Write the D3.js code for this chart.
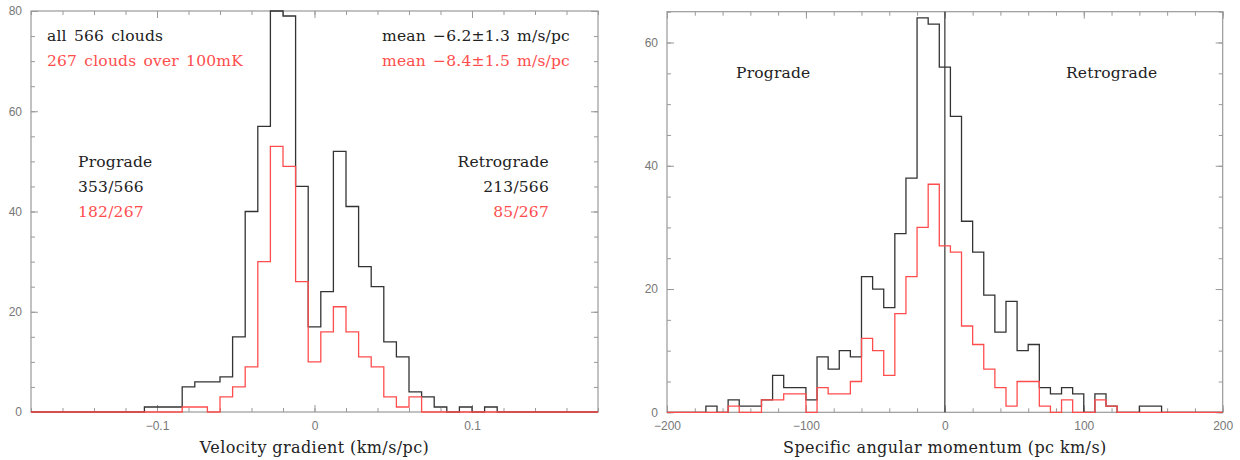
<!DOCTYPE html>
<html>
<head>
<meta charset="utf-8">
<script src="https://cdn.jsdelivr.net/npm/d3@7.9.0/dist/d3.min.js"></script>
<style>
  body { margin: 0; background: #fff; }
  .tick text { font-family: "Liberation Sans", Arial, sans-serif; font-size: 12px; fill: #777; }
  .tick line { stroke: #999; stroke-width: 1; }
  .note { font-family: "DejaVu Serif", serif; font-size: 15.5px; letter-spacing: 0.2px; word-spacing: 2px; }
  .xlabel { font-family: "DejaVu Serif", serif; font-size: 16px; fill: #222; letter-spacing: 0.4px; }
</style>
</head>
<body>
<svg id="chart" width="1240" height="460"></svg>
<script>
// ---- data: velocity gradient histogram (km/s/pc), bins of 0.008 starting at -0.18
const gradBinStart = -0.18;
const gradBinWidth = 0.008;
const gradAll = [0,0,0,0,0,0,0,0,0, 1,1,1,5,6,6,7,15,40,57,80,79,45,17,24,52,41,29,25,14,11,4,3,1,0,1,0,1, 0,0,0,0,0,0,0,0];
const gradBright = [0,0,0,0,0,0,0,0,0,0,0,0, 1,1,0,3,5,9,30,53,49,26,10,16,21,16,11,9,3,1,3, 0,0,0,0,0,0,0,0,0,0,0,0,0,0];
const gradXTicks = [-0.1, 0, 0.1];
const gradYTicks = [0, 20, 40, 60, 80];

// ---- data: specific angular momentum histogram (pc km/s), bins of 8 centred on -200..200
const momBinStart = -204;
const momBinWidth = 8;
const momAll = [0,0,0,0,1,0,2,1,1,2,6,4,4,2,9,7,10,9,22,20,17,29,38,64,63,56,48,31,26,19,13,18,10,11,4,3,4,3,0,3,1,0,0,1,1,0,0,0,0,0,0];
const momBright = [0,0,0,0,0,0,1,0,0,2,2,3,3,0,4,3,3,5,12,10,6,16,22,30,37,27,26,14,11,7,4,1,5,5,1,0,2,0,0,2,1,0,0,0,0,0,0,0,0,0,0];
const momXTicks = [-200, -100, 0, 100, 200];
const momYTicks = [0, 20, 40, 60];

const blackCol = "#333";
const redCol = "#ff4d4d";

const svg = d3.select("#chart");

function stepPoints(start, width, counts) {
  const pts = counts.map((c, i) => [start + i * width, c]);
  pts.push([start + counts.length * width, counts[counts.length - 1]]);
  return pts;
}

function drawPanel(o) {
  const x = d3.scaleLinear().domain(o.xDomain).range([o.left, o.right]);
  const y = d3.scaleLinear().domain(o.yDomain).range([o.bottom, o.top]);
  const g = svg.append("g");
  const fmt = d3.format("~g");

  g.append("clipPath").attr("id", o.id + "-clip")
    .append("rect")
    .attr("x", o.left).attr("y", o.top - 1)
    .attr("width", o.right - o.left).attr("height", o.bottom - o.top + 2);

  // minor ticks on all sides
  g.append("g").attr("transform", `translate(0,${o.bottom})`)
    .call(d3.axisBottom(x).tickValues(o.xMinor).tickSize(-4).tickFormat(""));
  g.append("g").attr("transform", `translate(0,${o.top})`)
    .call(d3.axisTop(x).tickValues(o.xMinor).tickSize(-4).tickFormat(""));
  g.append("g").attr("transform", `translate(${o.left},0)`)
    .call(d3.axisLeft(y).tickValues(o.yMinor).tickSize(-4).tickFormat(""));
  g.append("g").attr("transform", `translate(${o.right},0)`)
    .call(d3.axisRight(y).tickValues(o.yMinor).tickSize(-4).tickFormat(""));

  // major ticks
  g.append("g").attr("transform", `translate(0,${o.bottom})`)
    .call(d3.axisBottom(x).tickValues(o.xTicks).tickSize(-7).tickPadding(9).tickFormat(fmt));
  g.append("g").attr("transform", `translate(0,${o.top})`)
    .call(d3.axisTop(x).tickValues(o.xTicks).tickSize(-7).tickFormat(""));
  g.append("g").attr("transform", `translate(${o.left},0)`)
    .call(d3.axisLeft(y).tickValues(o.yTicks).tickSize(-7).tickPadding(9).tickFormat(fmt));
  g.append("g").attr("transform", `translate(${o.right},0)`)
    .call(d3.axisRight(y).tickValues(o.yTicks).tickSize(-7).tickFormat(""));

  g.selectAll(".domain").remove();

  g.append("rect")
    .attr("x", o.left).attr("y", o.top)
    .attr("width", o.right - o.left).attr("height", o.bottom - o.top)
    .attr("fill", "none").attr("stroke", "#999").attr("stroke-width", 1.2);

  const line = d3.line().curve(d3.curveStepAfter)
    .x(d => x(d[0])).y(d => y(d[1]));

  const hg = g.append("g").attr("clip-path", `url(#${o.id}-clip)`);
  if (o.zeroLine) {
    hg.append("line")
      .attr("x1", x(0)).attr("x2", x(0))
      .attr("y1", o.top).attr("y2", o.bottom)
      .attr("stroke", blackCol).attr("stroke-width", 1.2);
  }
  hg.append("path")
    .attr("d", line(stepPoints(o.binStart, o.binWidth, o.all)))
    .attr("fill", "none").attr("stroke", blackCol).attr("stroke-width", 1.3);
  hg.append("path")
    .attr("d", line(stepPoints(o.binStart, o.binWidth, o.bright)))
    .attr("fill", "none").attr("stroke", redCol).attr("stroke-width", 1.3);

  g.append("text").attr("class", "xlabel")
    .attr("x", (o.left + o.right) / 2).attr("y", 453)
    .attr("text-anchor", "middle")
    .text(o.xLabel);

  o.notes.forEach(n => {
    g.append("text").attr("class", "note")
      .attr("x", n[0]).attr("y", n[1])
      .attr("text-anchor", n[2])
      .attr("fill", n[4] ? redCol : "#222")
      .text(n[3]);
  });
}

drawPanel({
  id: "grad",
  left: 31, right: 598, top: 11, bottom: 412,
  xDomain: [-0.18, 0.18], yDomain: [0, 80],
  xTicks: gradXTicks, yTicks: gradYTicks,
  xMinor: d3.range(-9, 10).map(i => i * 0.02),
  yMinor: d3.range(0, 17).map(i => i * 5),
  binStart: gradBinStart, binWidth: gradBinWidth,
  all: gradAll, bright: gradBright,
  xLabel: "Velocity gradient (km/s/pc)",
  notes: [
    [47, 41, "start", "all 566 clouds", false],
    [47, 66, "start", "267 clouds over 100mK", true],
    [570, 41, "end", "mean \u22126.2\u00b11.3 m/s/pc", false],
    [570, 66, "end", "mean \u22128.4\u00b11.5 m/s/pc", true],
    [78, 167, "start", "Prograde", false],
    [78, 192, "start", "353/566", false],
    [78, 217, "start", "182/267", true],
    [549, 167, "end", "Retrograde", false],
    [549, 192, "end", "213/566", false],
    [549, 217, "end", "85/267", true]
  ]
});

drawPanel({
  id: "mom",
  left: 667, right: 1222.7, top: 11.7, bottom: 412.3,
  xDomain: [-200, 200], yDomain: [0, 65],
  xTicks: momXTicks, yTicks: momYTicks,
  xMinor: d3.range(-10, 11).map(i => i * 20),
  yMinor: d3.range(0, 14).map(i => i * 5),
  binStart: momBinStart, binWidth: momBinWidth,
  all: momAll, bright: momBright,
  zeroLine: true,
  xLabel: "Specific angular momentum (pc km/s)",
  notes: [
    [736, 78, "start", "Prograde", false],
    [1066, 78, "start", "Retrograde", false]
  ]
});
</script>
</body>
</html>
